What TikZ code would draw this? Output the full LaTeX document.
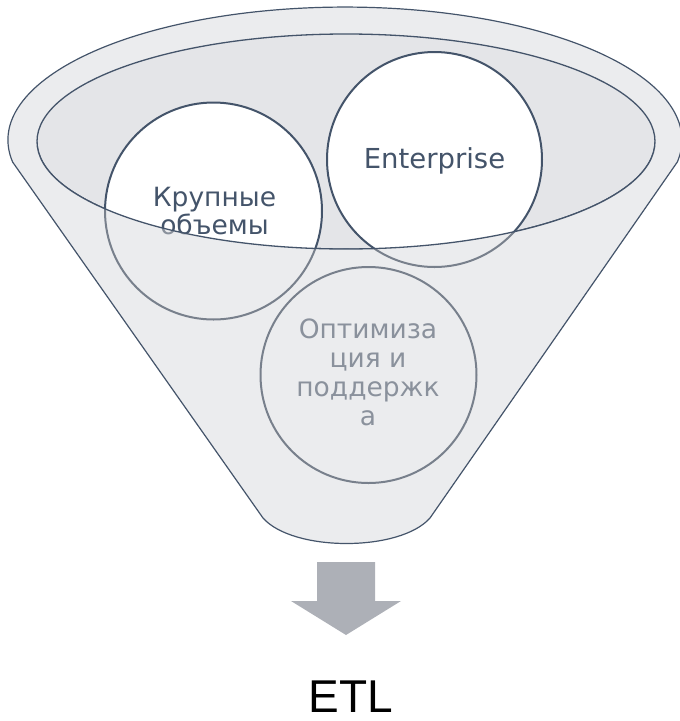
\documentclass[tikz,border=0pt]{standalone}
\usepackage{fontspec}
\newfontfamily\lblfont{DejaVu Sans}
\newfontfamily\etlfont{Liberation Sans}
\definecolor{navy}{HTML}{44546A}
\definecolor{ringgray}{HTML}{EBECEE}
\definecolor{innergray}{HTML}{E4E5E8}
\definecolor{fadeline}{HTML}{78808C}
\definecolor{fadetext}{HTML}{8A919C}
\definecolor{arrowgray}{HTML}{ADB0B7}
\begin{document}
\begin{tikzpicture}[x=1pt,y=1pt,
  bubble/.style={circle,draw=navy,fill=white,line width=2pt,inner sep=0pt},
  lbl/.style={anchor=base,inner sep=0pt,font=\lblfont\fontsize{26.5}{27}\selectfont},
  lblwide/.style={anchor=base,inner sep=0pt,font=\lblfont\fontsize{27.5}{27}\selectfont},
  lbltall/.style={anchor=base,inner sep=0pt,font=\lblfont\fontsize{26.5}{29}\selectfont}]
\def\funnelpath{(12.6,-162) arc[start angle=189.5,end angle=-9.5,x radius=337,y radius=133] -- (430,-518) .. controls (400,-552) and (293,-552) .. (263,-518) -- cycle}
\def\frontpath{(37,-141.5) arc[start angle=180,end angle=360,x radius=309,y radius=107.5] -- (720,-141.5) -- (720,-760) -- (-40,-760) -- (-40,-141.5) -- cycle}
\useasboundingbox (0,0) rectangle (680,-721);
% funnel body
\fill[ringgray] \funnelpath;
\filldraw[fill=innergray,draw=navy,line width=1.3pt] (346,-141.5) ellipse[x radius=309,y radius=107.5];
% circles
\node[bubble,minimum size=217pt] (c1) at (213.5,-211) {};
\node[bubble,minimum size=215pt] (c2) at (434.5,-159.5) {};
\node[bubble,minimum size=216pt] (c3) at (368.5,-375) {};
\node[lbl,text=navy] (t1) at (214.5,-206) {\begin{tabular}[t]{@{}c@{}}Крупные\\объемы\end{tabular}};
\node[lblwide,text=navy] (t2) at (434.5,-168) {Enterprise};
\node[lbltall,text=navy] (t3) at (368,-338) {\begin{tabular}[t]{@{}c@{}}Оптимиза\\ция и\\поддержк\\а\end{tabular}};
% front part of the funnel
\begin{scope}
  \clip \funnelpath;
  \clip \frontpath;
  \fill[ringgray] (-10,10) rectangle (700,-740);
  \draw[fadeline,line width=2pt] (c1.center) circle[radius=108.5];
  \draw[fadeline,line width=2pt] (c2.center) circle[radius=107.5];
  \draw[fadeline,line width=2pt] (c3.center) circle[radius=108];
  \node[lbl,text=fadetext] (t1g) at (214.5,-206) {\begin{tabular}[t]{@{}c@{}}Крупные\\объемы\end{tabular}};
  \node[lbltall,text=fadetext] (t3g) at (368,-338) {\begin{tabular}[t]{@{}c@{}}Оптимиза\\ция и\\поддержк\\а\end{tabular}};
\end{scope}
\draw[navy,line width=1.3pt] (37,-141.5) arc[start angle=180,end angle=360,x radius=309,y radius=107.5];
\draw[navy,line width=1.2pt] \funnelpath;
% arrow
\fill[arrowgray] (317,-562) -- (375,-562) -- (375,-601) -- (401,-601) -- (346,-635) -- (291,-601) -- (317,-601) -- cycle;
\node[anchor=base,inner sep=0pt,text depth=0pt,font=\etlfont\fontsize{46}{50}\selectfont] (etl) at (350.5,-712) {ETL};
\end{tikzpicture}
\end{document}
